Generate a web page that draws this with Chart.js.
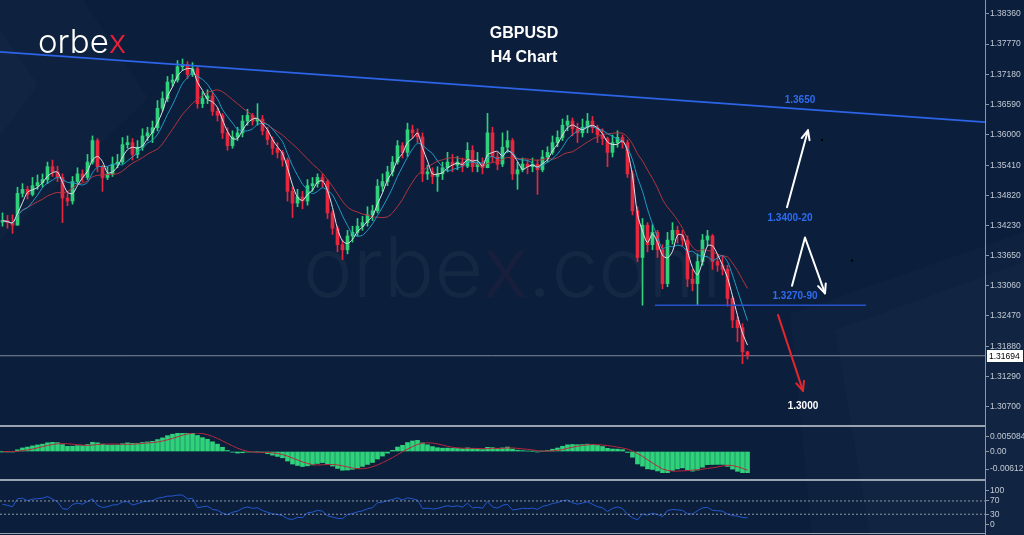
<!DOCTYPE html>
<html>
<head>
<meta charset="utf-8">
<script src="https://cdn.jsdelivr.net/npm/chart.js@4.4.1/dist/chart.umd.min.js"></script>
<style>
html, body { margin: 0; padding: 0; width: 1024px; height: 535px; overflow: hidden; background: #0b1f3c; }
#bg { position: absolute; left: 0; top: 0; }
.pane { position: absolute; left: 0; width: 1024px; }
</style>
</head>
<body>
<canvas id="bg" width="1024" height="535"></canvas>
<div class="pane" style="top:0;height:426px"><canvas id="main"></canvas></div>
<div class="pane" style="top:427px;height:52px"><canvas id="macd"></canvas></div>
<div class="pane" style="top:481px;height:54px"><canvas id="rsi"></canvas></div>
<script>
// GBPUSD H4 - precios
const firstOpen = 1.3430
const closes = [
  1.3433,1.3429,1.3424,1.3486,1.3494,1.3484,1.3501,1.3507,1.3513,1.3538,
  1.3528,1.3517,1.3477,1.3471,1.3509,1.3524,1.3517,1.3547,1.3589,1.3538,
  1.3517,1.3524,1.3543,1.3547,1.3581,1.3585,1.3562,1.3576,1.3598,1.3604,
  1.3614,1.3652,1.3671,1.3703,1.3707,1.3733,1.3737,1.3718,1.3729,1.3661,
  1.3671,1.3676,1.3646,1.3638,1.3604,1.3579,1.3596,1.3604,1.3627,1.3638,
  1.3627,1.3631,1.3608,1.3591,1.3574,1.3566,1.3551,1.3490,1.3467,1.3479,
  1.3471,1.3501,1.3505,1.3517,1.3509,1.3448,1.3418,1.3386,1.3376,1.3403,
  1.3410,1.3422,1.3429,1.3444,1.3452,1.3500,1.3509,1.3528,1.3547,1.3579,
  1.3566,1.3610,1.3604,1.3596,1.3524,1.3528,1.3519,1.3524,1.3536,1.3547,
  1.3541,1.3547,1.3539,1.3570,1.3538,1.3543,1.3536,1.3604,1.3557,1.3543,
  1.3576,1.3589,1.3524,1.3532,1.3543,1.3538,1.3543,1.3532,1.3557,1.3566,
  1.3585,1.3595,1.3619,1.3627,1.3612,1.3604,1.3615,1.3627,1.3614,1.3600,
  1.3593,1.3566,1.3585,1.3595,1.3585,1.3524,1.3452,1.3361,1.3424,1.3386,
  1.3410,1.3376,1.3310,1.3395,1.3414,1.3405,1.3395,1.3319,1.3310,1.3353,
  1.3395,1.3403,1.3353,1.3346,1.3338,1.3281,1.3239,1.3224,1.3177,1.31694
]
const highs = [
  1.3448,1.3443,1.3444,1.3498,1.3505,1.3500,1.3517,1.3522,1.3524,1.3547,
  1.3551,1.3539,1.3524,1.3490,1.3519,1.3536,1.3532,1.3562,1.3598,1.3593,
  1.3541,1.3538,1.3557,1.3562,1.3595,1.3598,1.3593,1.3589,1.3612,1.3615,
  1.3627,1.3667,1.3684,1.3714,1.3718,1.3745,1.3748,1.3743,1.3741,1.3733,
  1.3684,1.3688,1.3684,1.3653,1.3642,1.3614,1.3608,1.3615,1.3638,1.3650,
  1.3642,1.3661,1.3638,1.3615,1.3596,1.3585,1.3570,1.3555,1.3498,1.3494,
  1.3490,1.3513,1.3517,1.3524,1.3524,1.3513,1.3452,1.3422,1.3395,1.3414,
  1.3422,1.3437,1.3441,1.3460,1.3463,1.3513,1.3524,1.3539,1.3558,1.3589,
  1.3585,1.3623,1.3619,1.3612,1.3604,1.3541,1.3536,1.3538,1.3547,1.3566,
  1.3562,1.3558,1.3555,1.3585,1.3579,1.3566,1.3555,1.3642,1.3615,1.3566,
  1.3604,1.3608,1.3593,1.3547,1.3555,1.3551,1.3555,1.3551,1.3570,1.3577,
  1.3598,1.3608,1.3631,1.3638,1.3633,1.3623,1.3631,1.3642,1.3636,1.3619,
  1.3612,1.3596,1.3600,1.3608,1.3600,1.3590,1.3530,1.3460,1.3437,1.3429,
  1.3425,1.3414,1.3386,1.3410,1.3429,1.3422,1.3414,1.3403,1.3338,1.3368,
  1.3406,1.3414,1.3406,1.3367,1.3365,1.3346,1.3285,1.3247,1.3232,1.3178
]
const lows = [
  1.3422,1.3418,1.3408,1.3424,1.3479,1.3475,1.3481,1.3494,1.3498,1.3505,
  1.3519,1.3509,1.3429,1.3462,1.3465,1.3505,1.3509,1.3513,1.3543,1.3528,
  1.3490,1.3513,1.3519,1.3536,1.3543,1.3574,1.3551,1.3555,1.3570,1.3589,
  1.3585,1.3608,1.3646,1.3665,1.3695,1.3703,1.3726,1.3710,1.3714,1.3652,
  1.3653,1.3661,1.3638,1.3627,1.3593,1.3570,1.3574,1.3589,1.3596,1.3619,
  1.3619,1.3619,1.3600,1.3581,1.3562,1.3555,1.3539,1.3471,1.3439,1.3460,
  1.3456,1.3463,1.3490,1.3498,1.3498,1.3437,1.3406,1.3372,1.3357,1.3368,
  1.3391,1.3403,1.3414,1.3422,1.3433,1.3448,1.3490,1.3501,1.3520,1.3543,
  1.3555,1.3558,1.3593,1.3585,1.3509,1.3513,1.3505,1.3490,1.3513,1.3528,
  1.3528,1.3532,1.3528,1.3536,1.3528,1.3528,1.3524,1.3539,1.3547,1.3532,
  1.3538,1.3566,1.3513,1.3494,1.3528,1.3524,1.3528,1.3484,1.3528,1.3547,
  1.3562,1.3577,1.3589,1.3608,1.3598,1.3585,1.3596,1.3604,1.3604,1.3585,
  1.3581,1.3538,1.3557,1.3576,1.3574,1.3517,1.3444,1.3353,1.3268,1.3372,
  1.3376,1.3361,1.3300,1.3304,1.3387,1.3389,1.3384,1.3304,1.3296,1.3268,
  1.3346,1.3384,1.3338,1.3334,1.3327,1.3266,1.3224,1.3197,1.3154,1.3163
]

// ejes
const priceTicks = [1.3836,1.3777,1.3718,1.3659,1.3600,1.3541,1.3482,1.3423,1.3365,1.3306,1.3247,1.3188,1.3129,1.3070]
const macdTicks = [0.005084, 0, -0.00612]
const macdTickLabels = ['0.005084', '0.00', '-0.00612']
const rsiTicks = [100, 70, 30, 0]
const rsiLevels = [70, 30]

// niveles dibujados
const trendLine = [1.3762, 1.3625]   // inicio y fin de la linea azul
const supportLevel = 1.3268
const lastPrice = 1.31694

const slots = 197   // espacio total del eje x (velas + margen derecho)

// Calculamos open, colores e indicadores
const opens = closes.map((c, i) => i === 0 ? firstOpen : closes[i - 1])
const hi = highs.map((h, i) => Math.max(h, opens[i], closes[i]))
const lo = lows.map((l, i) => Math.min(l, opens[i], closes[i]))
const GREEN = '#2fd27a'
const RED = '#e8263e'
const candleColor = closes.map((c, i) => c >= opens[i] ? GREEN : RED)

function sma(arr, p) {
  return arr.map((_, i) => {
    const s = arr.slice(Math.max(0, i - p + 1), i + 1)
    return s.reduce((a, b) => a + b, 0) / s.length
  })
}
function ema(arr, p) {
  const k = 2 / (p + 1)
  let e = arr[0]
  return arr.map(v => (e = v * k + e * (1 - k)))
}
function rsi(arr, p) {
  let g = 0.0006, l = 0.0004
  return arr.map((v, i) => {
    if (i > 0) {
      const d = v - arr[i - 1]
      g = (g * (p - 1) + Math.max(d, 0)) / p
      l = (l * (p - 1) + Math.max(-d, 0)) / p
    }
    return 100 - 100 / (1 + g / l)
  })
}

const maFast = sma(closes, 3)
const maMid = sma(closes, 6)
const maSlow = sma(closes, 13)
const fast = ema(closes, 8), slow = ema(closes, 22)
const macd = fast.map((v, i) => v - slow[i])
const signal = sma(macd, 6)
const rsiVals = rsi(closes, 8)

const xy = arr => arr.map((v, i) => ({ x: i + 0.5, y: v }))

// Fondo: decoraciones y marca de agua
function drawBackground() {
  const c = document.getElementById('bg').getContext('2d')
  c.fillStyle = '#0b1f3c'
  c.fillRect(0, 0, 1024, 535)
  c.fillStyle = 'rgba(255,255,255,0.016)'
  c.beginPath(); c.moveTo(0, 0); c.lineTo(83, 0); c.lineTo(148, 98); c.lineTo(0, 240); c.closePath(); c.fill()
  c.beginPath(); c.moveTo(0, 30); c.lineTo(38, 85); c.lineTo(0, 135); c.closePath(); c.fill()
  c.beginPath(); c.moveTo(790, 314); c.lineTo(1024, 232); c.lineTo(1024, 535); c.lineTo(812, 535); c.closePath(); c.fill()
  c.fillStyle = 'rgba(255,255,255,0.014)'
  c.beginPath(); c.moveTo(835, 330); c.lineTo(1024, 262); c.lineTo(1024, 535); c.lineTo(870, 535); c.closePath(); c.fill()

  c.font = '300 84px Inter'
  c.textBaseline = 'alphabetic'
  c.textAlign = 'left'
  let x = 303
  const parts = [['orbe', 'rgba(255,255,255,0.04)'], ['x', 'rgba(230,40,60,0.06)'], ['.com', 'rgba(255,255,255,0.04)']]
  parts.forEach(([t, col]) => { c.fillStyle = col; c.fillText(t, x, 297); x += c.measureText(t).width })

  // separadores de paneles y eje derecho
  c.fillStyle = '#9aa3b1'
  c.fillRect(0, 425, 985, 2)
  c.fillRect(0, 479, 985, 2)
  c.fillRect(0, 533, 985, 1)
  c.fillStyle = '#8d96a5'
  c.fillRect(985, 0, 1, 535)
}
drawBackground()

const axisFont = { family: 'Liberation Sans, Arial, sans-serif', size: 8.5 }
const axisColor = '#c3cad5'
const lineColor = '#8d96a5'

function rightAxis(ticks, labels, min, max) {
  return {
    position: 'right', min, max,
    afterBuildTicks: s => { s.ticks = ticks.map(v => ({ value: v })) },
    afterFit: s => { s.width = 39 },
    ticks: {
      autoSkip: false, color: axisColor, font: axisFont, padding: 1,
      callback: (v, i) => labels[i]
    },
    grid: { drawOnChartArea: false, drawTicks: true, tickLength: 4, color: lineColor },
    border: { display: true, color: lineColor }
  }
}
const hiddenX = { type: 'linear', min: 0, max: slots, display: false, offset: false }

// Textos, flechas y etiqueta de precio
const notes = [
  { text: '1.3650', x: 160, y: 1.3668, color: '#2f6bf0' },
  { text: '1.3400-20', x: 158, y: 1.3438, color: '#2f6bf0' },
  { text: '1.3270-90', x: 159, y: 1.3285, color: '#2f6bf0' },
  { text: '1.3000', x: 160.6, y: 1.3071, color: '#ffffff' }
]
const arrows = [
  { pts: [[157.4, 1.3459], [161.6, 1.3609]], color: '#ffffff' },
  { pts: [[158.4, 1.3306], [161, 1.3400], [165, 1.3291]], color: '#ffffff' },
  { pts: [[155.6, 1.3249], [160.6, 1.3101]], color: '#e3262e' }
]
const dots = [[164.4, 1.3590], [170.4, 1.3355]]

const overlay = {
  id: 'overlay',
  afterDatasetsDraw(chart) {
    const { ctx, scales: { x, y } } = chart
    ctx.save()
    ctx.lineCap = 'round'
    ctx.lineJoin = 'round'
    arrows.forEach(a => {
      const p = a.pts.map(([i, v]) => [x.getPixelForValue(i), y.getPixelForValue(v)])
      ctx.strokeStyle = a.color
      ctx.lineWidth = 2
      ctx.beginPath()
      p.forEach((q, k) => k ? ctx.lineTo(q[0], q[1]) : ctx.moveTo(q[0], q[1]))
      ctx.stroke()
      const s = p[p.length - 2], e = p[p.length - 1]
      const ang = Math.atan2(e[1] - s[1], e[0] - s[0])
      ctx.beginPath()
      ctx.moveTo(e[0] - 10 * Math.cos(ang - 0.42), e[1] - 10 * Math.sin(ang - 0.42))
      ctx.lineTo(e[0], e[1])
      ctx.lineTo(e[0] - 10 * Math.cos(ang + 0.42), e[1] - 10 * Math.sin(ang + 0.42))
      ctx.stroke()
    })
    ctx.fillStyle = '#000000'
    dots.forEach(([i, v]) => ctx.fillRect(x.getPixelForValue(i) - 1, y.getPixelForValue(v) - 1, 2, 2))

    ctx.font = 'bold 10px Liberation Sans, Arial, sans-serif'
    ctx.textAlign = 'center'
    ctx.textBaseline = 'middle'
    notes.forEach(t => {
      ctx.fillStyle = t.color
      ctx.fillText(t.text, x.getPixelForValue(t.x), y.getPixelForValue(t.y))
    })

    // titulo
    ctx.fillStyle = '#ffffff'
    ctx.font = 'bold 16px Liberation Sans, Arial, sans-serif'
    ctx.fillText('GBPUSD', 524, 34)
    ctx.fillText('H4 Chart', 524, 58)

    // logo
    ctx.font = '300 33px Inter'
    ctx.textAlign = 'left'
    ctx.textBaseline = 'alphabetic'
    ctx.fillStyle = '#ffffff'
    ctx.fillText('orbe', 38, 53)
    ctx.fillStyle = '#e8203a'
    ctx.fillText('x', 38 + ctx.measureText('orbe').width, 53)

    // etiqueta del ultimo precio
    const py = Math.round(y.getPixelForValue(lastPrice))
    ctx.fillStyle = '#ffffff'
    ctx.fillRect(987, py - 6, 36, 12)
    ctx.fillStyle = '#000000'
    ctx.font = '8.5px Liberation Sans, Arial, sans-serif'
    ctx.textBaseline = 'middle'
    ctx.fillText(lastPrice.toFixed(5), 989, py + 0.5)
    ctx.restore()
  }
}

const baseOptions = {
  responsive: true,
  maintainAspectRatio: false,
  animation: false,
  events: [],
  layout: { padding: 0 },
  plugins: { legend: { display: false }, tooltip: { enabled: false } }
}

new Chart(document.getElementById('main'), {
  type: 'bar',
  data: {
    datasets: [
      { type: 'line', data: [{ x: 0, y: lastPrice }, { x: slots, y: lastPrice }], borderColor: '#7f8997', borderWidth: 1, pointRadius: 0, order: 10 },
      { data: lo.map((l, i) => ({ x: i + 0.5, y: [l, hi[i]] })), backgroundColor: candleColor, barThickness: 1, grouped: false, order: 6 },
      { data: opens.map((o, i) => ({ x: i + 0.5, y: [o, closes[i]] })), backgroundColor: candleColor, barThickness: 3, minBarLength: 1, grouped: false, order: 5 },
      { type: 'line', data: xy(maSlow), borderColor: '#b3343f', borderWidth: 1, pointRadius: 0, tension: 0.3, order: 3 },
      { type: 'line', data: xy(maMid), borderColor: '#1f9cc6', borderWidth: 1, pointRadius: 0, tension: 0.3, order: 2 },
      { type: 'line', data: xy(maFast), borderColor: '#dfe3ea', borderWidth: 1, pointRadius: 0, tension: 0.3, order: 1 },
      { type: 'line', data: [{ x: 0, y: trendLine[0] }, { x: slots, y: trendLine[1] }], borderColor: '#2d63e6', borderWidth: 1.6, pointRadius: 0, order: 0 },
      { type: 'line', data: [{ x: 131, y: supportLevel }, { x: 173.2, y: supportLevel }], borderColor: '#2852cc', borderWidth: 1.6, pointRadius: 0, order: 0 }
    ]
  },
  options: {
    ...baseOptions,
    scales: { x: hiddenX, y: rightAxis(priceTicks, priceTicks.map(v => v.toFixed(5)), 1.30443, 1.38512) }
  },
  plugins: [overlay]
})

new Chart(document.getElementById('macd'), {
  type: 'bar',
  data: {
    datasets: [
      { type: 'line', data: xy(signal), borderColor: '#b8283c', borderWidth: 1, pointRadius: 0, order: 0 },
      { data: xy(macd), backgroundColor: GREEN, barThickness: 4, grouped: false, order: 1 }
    ]
  },
  options: {
    ...baseOptions,
    scales: { x: hiddenX, y: rightAxis(macdTicks, macdTickLabels, -0.007454, 0.006418) }
  }
})

new Chart(document.getElementById('rsi'), {
  type: 'line',
  data: {
    datasets: [
      ...rsiLevels.map(l => ({ data: [{ x: 0, y: l }, { x: slots, y: l }], borderColor: '#8d96a5', borderWidth: 1, borderDash: [2, 2], pointRadius: 0 })),
      { data: xy(rsiVals), borderColor: '#2358d0', borderWidth: 1, pointRadius: 0 }
    ]
  },
  options: {
    ...baseOptions,
    scales: { x: hiddenX, y: rightAxis(rsiTicks, rsiTicks.map(String), -14, 111.6) }
  }
})
</script>
</body>
</html>
